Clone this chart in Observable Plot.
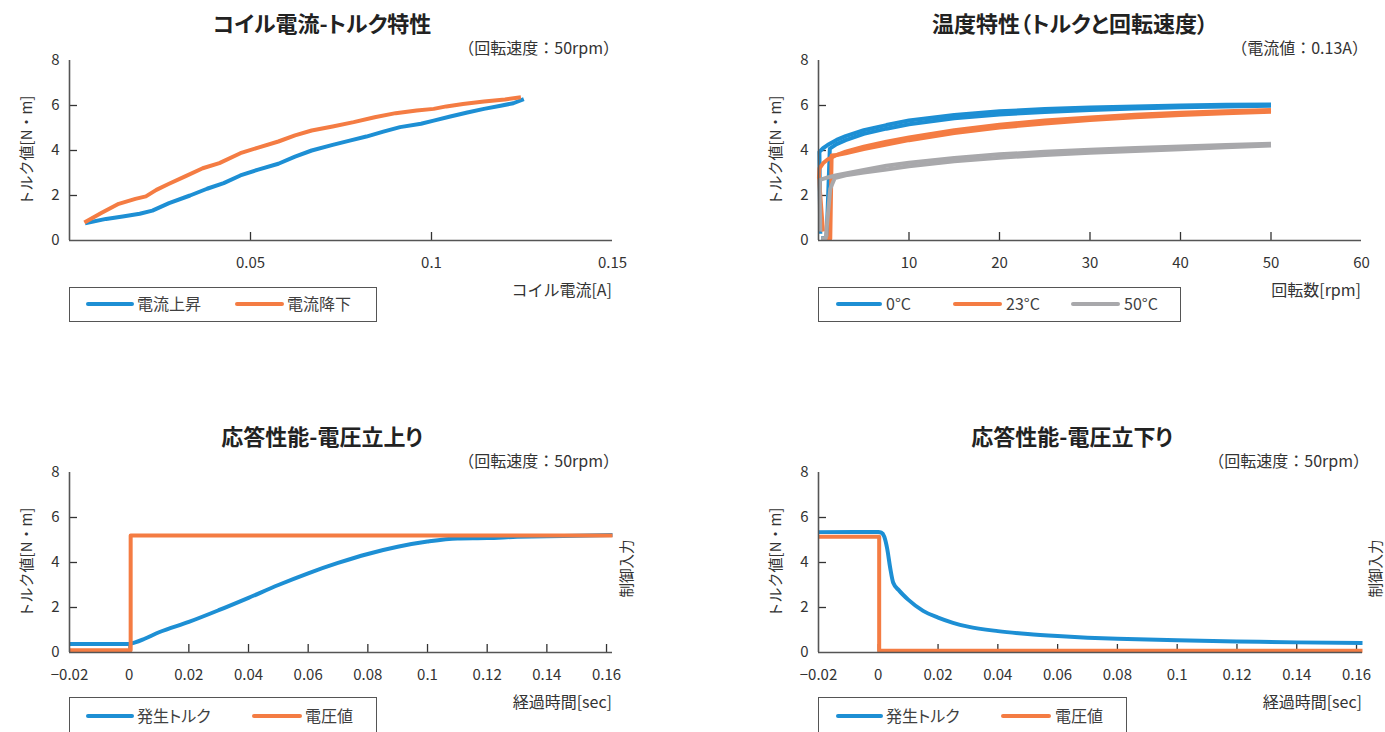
<!DOCTYPE html>
<html>
<head>
<meta charset="utf-8">
<script src="https://cdn.jsdelivr.net/npm/d3@7"></script>
<script src="https://cdn.jsdelivr.net/npm/@observablehq/plot@0.6"></script>
<style>
  html, body { margin: 0; padding: 0; background: #fff; }
  body { width: 1385px; height: 732px; overflow: hidden; position: relative;
         font-family: "Noto Sans CJK JP", "Noto Sans", sans-serif; color: #333; }
  .abs { position: absolute; white-space: nowrap; line-height: 1; }
  .panel { position: absolute; }
  .legend { position: absolute; border: 1.5px solid #555; box-sizing: border-box; background: #fff; }
  .swatch { position: absolute; height: 4px; border-radius: 2px; }
</style>
</head>
<body>
<script>
// ---------------- DATA ----------------
// Panel 1: coil current vs torque (50rpm)
const coilCurrentUp = [0.0043, 0.0101, 0.0147, 0.0194, 0.0229, 0.0275, 0.0333, 0.038, 0.0426, 0.0472, 0.0519, 0.0577, 0.0623, 0.0669, 0.0727, 0.0774, 0.082, 0.0867, 0.0913, 0.0971, 0.1006, 0.1052, 0.1099, 0.1145, 0.1191, 0.1226, 0.1255];
const torqueUp       = [0.77, 0.96, 1.07, 1.19, 1.33, 1.66, 2.0, 2.3, 2.55, 2.89, 3.14, 3.41, 3.73, 4.0, 4.25, 4.44, 4.62, 4.84, 5.04, 5.19, 5.33, 5.51, 5.69, 5.85, 5.99, 6.10, 6.28];
const coilCurrentDown = [0.0041, 0.0089, 0.0136, 0.0182, 0.0211, 0.024, 0.0275, 0.0321, 0.0368, 0.0414, 0.0472, 0.0519, 0.0577, 0.0623, 0.0669, 0.0727, 0.0785, 0.0843, 0.0901, 0.0959, 0.1006, 0.1041, 0.1087, 0.1145, 0.1203, 0.1247];
const torqueDown      = [0.80, 1.23, 1.63, 1.85, 1.96, 2.25, 2.52, 2.86, 3.21, 3.44, 3.88, 4.12, 4.40, 4.67, 4.89, 5.07, 5.26, 5.48, 5.66, 5.78, 5.85, 5.96, 6.07, 6.18, 6.27, 6.37];

// Panel 2: temperature characteristics (torque vs rpm), two sweeps each
const rpm0Up     = [0.3, 0.9, 1.25, 2, 3, 5, 7.5, 10, 15, 20, 25, 30, 35, 40, 45, 50];
const torque0Up  = [0.1, 0.12, 4.08, 4.28, 4.46, 4.74, 4.97, 5.17, 5.43, 5.6, 5.71, 5.8, 5.87, 5.92, 5.96, 5.99];
const rpm0Down   = [50, 45, 40, 35, 30, 25, 20, 15, 10, 7.5, 5, 3, 2, 1, 0.5, 0.1, 0.2];
const torque0Down= [6.05, 6.03, 6.0, 5.96, 5.91, 5.84, 5.74, 5.58, 5.33, 5.13, 4.9, 4.64, 4.47, 4.24, 4.1, 3.94, 0.3];
const rpm23Up    = [0.6, 1.3, 1.45, 2, 3, 5, 7.5, 10, 15, 20, 25, 30, 35, 40, 45, 50];
const torque23Up = [0.08, 0.08, 3.78, 3.8, 3.88, 4.06, 4.27, 4.46, 4.78, 5.02, 5.2, 5.35, 5.48, 5.58, 5.66, 5.72];
const rpm23Down  = [50, 45, 40, 35, 30, 25, 20, 15, 10, 7.5, 5, 3, 2, 1, 0.5, 0.1, 0.05, 0.5];
const torque23Down = [5.8, 5.75, 5.68, 5.59, 5.47, 5.33, 5.15, 4.9, 4.58, 4.39, 4.17, 3.95, 3.8, 3.6, 3.43, 3.2, 2.8, 0.4];
const rpm50Up    = [0.3, 0.8, 1.3, 1.8, 3, 5, 7.5, 10, 15, 20, 25, 30, 35, 40, 45, 50];
const torque50Up = [0.1, 0.1, 2.3, 2.78, 2.9, 3.02, 3.16, 3.3, 3.52, 3.68, 3.8, 3.9, 3.98, 4.06, 4.14, 4.22];
const rpm50Down  = [50, 45, 40, 35, 30, 25, 20, 15, 10, 7.5, 5, 3, 2, 1, 0.5, 0.1, 0.2];
const torque50Down = [4.3, 4.24, 4.18, 4.11, 4.03, 3.94, 3.83, 3.67, 3.46, 3.32, 3.14, 2.98, 2.9, 2.8, 2.74, 2.68, 0.4];

// Panel 3: response, voltage rise
const riseTime    = [-0.02, 0, 0.002, 0.005, 0.01, 0.02, 0.03, 0.04, 0.05, 0.06, 0.07, 0.08, 0.09, 0.1, 0.11, 0.12, 0.13, 0.14, 0.15, 0.162];
const riseTorque  = [0.38, 0.38, 0.45, 0.6, 0.9, 1.36, 1.88, 2.43, 3.0, 3.52, 3.98, 4.38, 4.7, 4.93, 5.07, 5.09, 5.14, 5.17, 5.19, 5.22];
const riseVoltTime = [-0.02, 0.0005, 0.0005, 0.162];
const riseVolt     = [0.1, 0.1, 5.2, 5.2];

// Panel 4: response, voltage fall
const fallTime    = [-0.02, 0, 0.001, 0.002, 0.003, 0.004, 0.005, 0.007, 0.01, 0.015, 0.02, 0.025, 0.03, 0.04, 0.05, 0.06, 0.07, 0.08, 0.1, 0.12, 0.14, 0.162];
const fallTorque  = [5.35, 5.36, 5.33, 5.15, 4.6, 3.75, 3.1, 2.75, 2.35, 1.85, 1.55, 1.32, 1.15, 0.95, 0.82, 0.73, 0.66, 0.61, 0.54, 0.49, 0.45, 0.42];
const fallVoltTime = [-0.02, 0.0003, 0.0003, 0.162];
const fallVolt     = [5.15, 5.15, 0.08, 0.08];

// Ticks
const yTickValues = [0, 2, 4, 6, 8];
const yTickLabels = ["0", "2", "4", "6", "8"];
const coilTickValues = [0.05, 0.1, 0.15];
const coilTickLabels = ["0.05", "0.1", "0.15"];
const rpmTickValues = [10, 20, 30, 40, 50, 60];
const rpmTickLabels = ["10", "20", "30", "40", "50", "60"];
const timeTickValues = [-0.02, 0, 0.02, 0.04, 0.06, 0.08, 0.1, 0.12, 0.14, 0.16];
const timeTickLabels = ["−0.02", "0", "0.02", "0.04", "0.06", "0.08", "0.1", "0.12", "0.14", "0.16"];

// Texts
const titles = ["コイル電流-トルク特性", "温度特性（トルクと回転速度）", "応答性能-電圧立上り", "応答性能-電圧立下り"];
const subtitles = ["（回転速度：50rpm）", "（電流値：0.13A）", "（回転速度：50rpm）", "（回転速度：50rpm）"];
const xLabels = ["コイル電流[A]", "回転数[rpm]", "経過時間[sec]", "経過時間[sec]"];
const yLabel = "トルク値[N・m]";
const rightLabel = "制御入力";
const legend1 = ["電流上昇", "電流降下"];
const legend2 = ["0°C", "23°C", "50°C"];
const legend3 = ["発生トルク", "電圧値"];

// Colors
const BLUE = "#1d8fd4", ORANGE = "#f47c43", GRAY = "#a8a8ab";

// ---------------- HELPERS ----------------
const zipXY = (xs, ys) => xs.map((x, i) => ({x, y: ys[i]}));

function addText(str, x, yc, fs, anchor, extra = {}) {
  const d = document.createElement("div");
  d.className = "abs";
  d.textContent = str;
  d.style.fontSize = fs + "px";
  d.style.left = x + "px";
  d.style.top = (yc - 0.556 * fs) + "px";
  if (anchor === "middle") d.style.transform = "translateX(-50%)";
  if (anchor === "end") d.style.transform = "translateX(-100%)";
  Object.assign(d.style, extra);
  document.body.appendChild(d);
}

function addLegend(box, items) {
  const b = document.createElement("div");
  b.className = "legend";
  Object.assign(b.style, {left: box.x + "px", top: box.y + "px", width: box.w + "px", height: box.h + "px"});
  document.body.appendChild(b);
  for (const it of items) {
    const s = document.createElement("div");
    s.className = "swatch";
    Object.assign(s.style, {left: it.x1 + "px", top: (box.cy - 2) + "px", width: (it.x2 - it.x1) + "px", background: it.color});
    document.body.appendChild(s);
    addText(it.label, it.tx, box.cy, 16, "start", {color: "#404040", fontFeatureSettings: '"palt"'});
  }
}

function buildPanel(p) {
  const plotW = p.width - p.mL - p.mR, plotH = p.height - p.mT - p.mB;
  const fmtX = d => p.xTickLabels[p.xTickValues.indexOf(d)];
  const fmtY = d => yTickLabels[yTickValues.indexOf(d)];
  const marks = [
    Plot.tickX(p.xInner, {x: d => d, insetTop: plotH - 8, stroke: "#333", strokeWidth: 1.3}),
    Plot.tickY([2, 4, 6], {y: d => d, insetRight: plotW - 8, stroke: "#333", strokeWidth: 1.3}),
    Plot.axisY({ticks: yTickValues, tickFormat: fmtY, tickSize: 0, tickPadding: 10, label: null, fontSize: 15, color: "#333"}),
    Plot.axisX({ticks: p.xTickValues, tickFormat: fmtX, tickSize: 0, tickPadding: 17, label: null, fontSize: 15, color: "#333"}),
    Plot.text([yLabel], {frameAnchor: "left", rotate: -90, dx: -48, lineAnchor: "top", textAnchor: "middle", text: d => d, fontSize: 15, fill: "#333"}),
    ...p.series.map(s => Plot.line(s.data, {x: "x", y: "y", stroke: s.color, strokeWidth: 4, curve: s.curve || "linear", strokeLinejoin: "round", strokeLinecap: "butt"})),
    Plot.ruleX([p.xDomain[0]], {stroke: "#555", strokeWidth: 1.6}),
    Plot.ruleY([0], {stroke: "#555", strokeWidth: 1.6})
  ];
  if (p.rightLabel) {
    marks.push(Plot.text([p.rightLabel], {frameAnchor: "right", rotate: -90, dx: p.rightDx, dy: 6, textAnchor: "middle", lineAnchor: "middle", text: d => d, fontSize: 14.5, fill: "#333"}));
  }
  const svg = Plot.plot({
    width: p.width, height: p.height,
    marginLeft: p.mL, marginRight: p.mR, marginTop: p.mT, marginBottom: p.mB,
    x: {domain: p.xDomain},
    y: {domain: [0, 8]},
    style: {fontFamily: '"Noto Sans CJK JP", "Noto Sans", sans-serif', background: "transparent", overflow: "visible", color: "#333"},
    marks
  });
  const wrap = document.createElement("div");
  wrap.className = "panel";
  wrap.style.left = p.left + "px";
  wrap.style.top = p.top + "px";
  wrap.appendChild(svg);
  document.body.appendChild(wrap);
}

// ---------------- PANELS ----------------
buildPanel({
  left: 0, top: 0, width: 700, height: 280, mL: 69, mR: 88, mT: 60, mB: 40,
  xDomain: [0, 0.15], xTickValues: coilTickValues, xTickLabels: coilTickLabels, xInner: [0.05, 0.1],
  series: [
    {data: zipXY(coilCurrentUp, torqueUp), color: BLUE},
    {data: zipXY(coilCurrentDown, torqueDown), color: ORANGE}
  ]
});
buildPanel({
  left: 700, top: 0, width: 685, height: 280, mL: 118, mR: 24, mT: 60, mB: 40,
  xDomain: [0, 60], xTickValues: rpmTickValues, xTickLabels: rpmTickLabels, xInner: [10, 20, 30, 40, 50],
  series: [
    {data: zipXY(rpm0Up, torque0Up), color: BLUE},
    {data: zipXY(rpm0Down, torque0Down), color: BLUE},
    {data: zipXY(rpm23Up, torque23Up), color: ORANGE},
    {data: zipXY(rpm23Down, torque23Down), color: ORANGE},
    {data: zipXY(rpm50Up, torque50Up), color: GRAY},
    {data: zipXY(rpm50Down, torque50Down), color: GRAY}
  ]
});
buildPanel({
  left: 0, top: 412, width: 700, height: 280, mL: 69, mR: 88, mT: 60, mB: 40,
  xDomain: [-0.02, 0.162], xTickValues: timeTickValues, xTickLabels: timeTickLabels,
  xInner: [0, 0.02, 0.04, 0.06, 0.08, 0.1, 0.12, 0.14, 0.16],
  rightLabel: rightLabel, rightDx: 15,
  series: [
    {data: zipXY(riseTime, riseTorque), color: BLUE, curve: "monotone-x"},
    {data: zipXY(riseVoltTime, riseVolt), color: ORANGE}
  ]
});
buildPanel({
  left: 700, top: 412, width: 685, height: 280, mL: 118, mR: 23, mT: 60, mB: 40,
  xDomain: [-0.02, 0.162], xTickValues: timeTickValues, xTickLabels: timeTickLabels,
  xInner: [0, 0.02, 0.04, 0.06, 0.08, 0.1, 0.12, 0.14, 0.16],
  rightLabel: rightLabel, rightDx: 14,
  series: [
    {data: zipXY(fallTime, fallTorque), color: BLUE, curve: "monotone-x"},
    {data: zipXY(fallVoltTime, fallVolt), color: ORANGE}
  ]
});

// ---------------- TEXTS ----------------
const titleStyle = {fontWeight: "bold", color: "#222", fontFeatureSettings: '"palt"'};
addText(titles[0], 322, 23, 22, "middle", titleStyle);
addText(titles[1], 1070, 23, 22, "middle", titleStyle);
addText(titles[2], 322, 436, 22, "middle", titleStyle);
addText(titles[3], 1072, 436, 22, "middle", titleStyle);

addText(subtitles[0], 619, 48, 16, "end");
addText(subtitles[1], 1368, 48, 16, "end");
addText(subtitles[2], 619, 461, 16, "end");
addText(subtitles[3], 1369, 461, 16, "end");

addText(xLabels[0], 612, 290, 16, "end");
addText(xLabels[1], 1361, 290, 16, "end");
addText(xLabels[2], 612, 702, 16, "end");
addText(xLabels[3], 1362, 702, 16, "end");

// ---------------- LEGENDS ----------------
addLegend({x: 69, y: 287, w: 308, h: 35, cy: 304}, [
  {x1: 86, x2: 134, tx: 137, label: legend1[0], color: BLUE},
  {x1: 235, x2: 284, tx: 287, label: legend1[1], color: ORANGE}
]);
addLegend({x: 818, y: 287, w: 363, h: 35, cy: 304}, [
  {x1: 836, x2: 882, tx: 886, label: legend2[0], color: BLUE},
  {x1: 953, x2: 1002, tx: 1006, label: legend2[1], color: ORANGE},
  {x1: 1071, x2: 1120, tx: 1124, label: legend2[2], color: GRAY}
]);
addLegend({x: 69, y: 697, w: 308, h: 50, cy: 716}, [
  {x1: 86, x2: 134, tx: 137, label: legend3[0], color: BLUE},
  {x1: 252, x2: 302, tx: 305, label: legend3[1], color: ORANGE}
]);
addLegend({x: 818, y: 697, w: 309, h: 50, cy: 716}, [
  {x1: 836, x2: 883, tx: 886, label: legend3[0], color: BLUE},
  {x1: 1001, x2: 1051, tx: 1055, label: legend3[1], color: ORANGE}
]);
</script>
</body>
</html>
